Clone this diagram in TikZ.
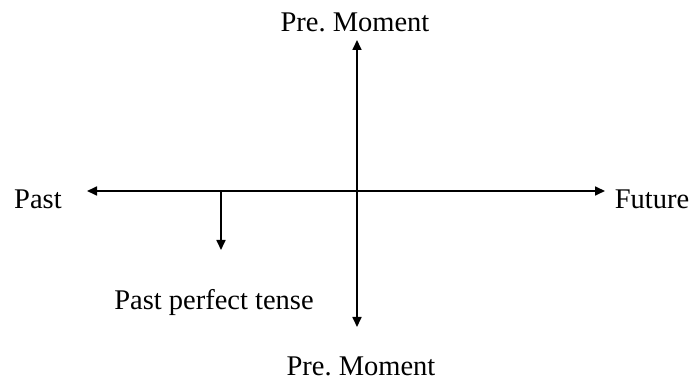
\documentclass[tikz,border=0pt]{standalone}
\usepackage{fontspec}
\setmainfont{Liberation Serif}
\usetikzlibrary{arrows.meta}
\frenchspacing
\begin{document}
\begin{tikzpicture}[x=1pt,y=1pt,
  lbl/.style={anchor=base,inner sep=0pt,font=\fontsize{28.5}{32}\selectfont},
  axis/.style={line width=1.7pt,-{Triangle[length=10pt,width=9pt]}}]
\useasboundingbox (0,0) rectangle (694,386);
\coordinate (O) at (357,195);
\coordinate (L) at (87,195);
\coordinate (R) at (605,195);
\coordinate (T) at (357,346);
\coordinate (B) at (357,59);
\coordinate (S0) at (221,195);
\coordinate (S1) at (221,136);
\node[lbl] (top) at (355,354) {Pre. Moment};
\node[lbl] (bot) at (361,11) {Pre. Moment};
\node[lbl] (past) at (38,177) {Past};
\node[lbl] (future) at (652,177) {Future};
\node[lbl] (ppt) at (214,76) {Past perfect tense};
\draw[axis] (O) -- (L);
\draw[axis] (O) -- (R);
\draw[axis] (O) -- (T);
\draw[axis] (O) -- (B);
\draw[axis] (S0) -- (S1);
\end{tikzpicture}
\end{document}
